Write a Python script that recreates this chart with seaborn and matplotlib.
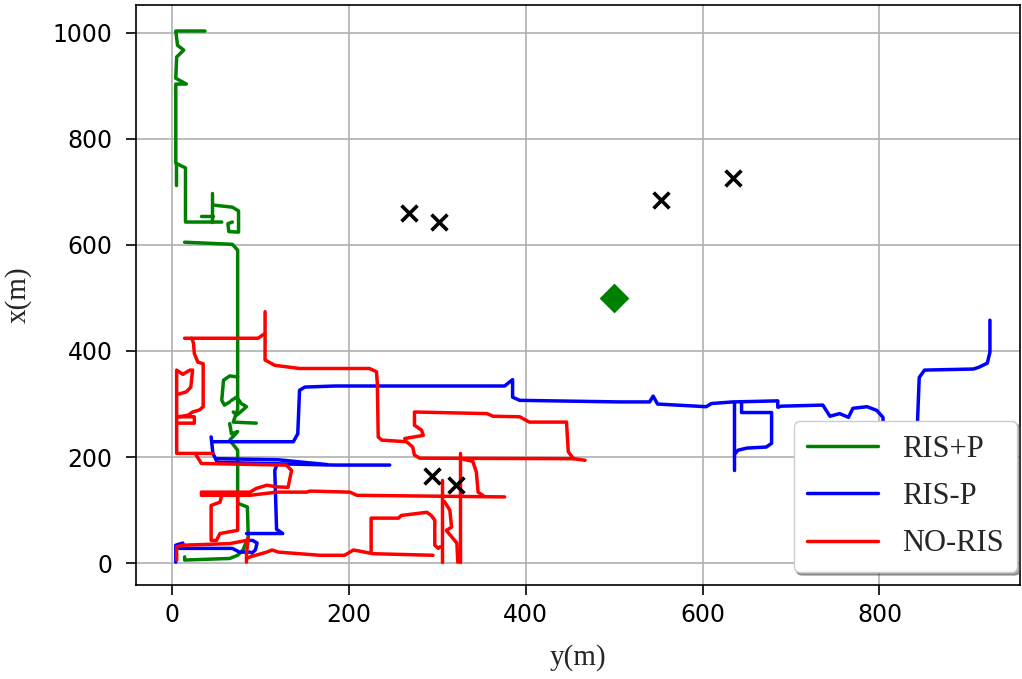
import numpy as np
import pandas as pd
import matplotlib
matplotlib.use("Agg")
import matplotlib.pyplot as plt
from matplotlib.lines import Line2D
import seaborn as sns

# ---------------- data (horizontal = y(m), vertical = x(m)) ----------------
methods = ["RIS+P", "RIS-P", "NO-RIS"]
colors = {"RIS+P": "green", "RIS-P": "blue", "NO-RIS": "red"}

ris_plus_p_segments = [
    [(37, 1003), (4, 1003), (6, 976), (13, 967), (5, 954), (4, 914), (16, 903), (4, 903),
     (4, 754), (15, 745), (15, 643), (56, 643)],
    [(4, 754), (4, 713)],
    [(45, 697), (45, 643)],
    [(33, 654), (46, 654)],
    [(46, 675), (68, 671), (75, 664), (75, 624), (64, 625), (63, 640), (68, 643)],
    [(14, 605), (68, 601), (74, 590), (74, 351), (65, 353), (58, 345), (56, 307), (59, 298), (65, 304)],
    [(67, 307), (73, 313), (78, 301), (84, 295), (73, 279), (69, 285)],
    [(74, 351), (74, 290), (69, 266), (95, 264)],
    [(65, 263), (67, 244), (74, 248), (65, 232), (74, 213), (74, 113), (85, 106), (86, 49),
     (80, 25), (74, 15), (65, 9), (14, 6), (14, 12)],
]

ris_minus_p_segments = [
    [(4, 2), (4, 34), (12, 38)],
    [(8, 28), (68, 28), (76, 21), (88, 21)],
    [(88, 43), (91, 43), (96, 38), (94, 25), (90, 19)],
    [(84, 56), (125, 56), (118, 64), (116, 175), (118, 184)],
    [(44, 238), (46, 207), (51, 190), (184, 185), (246, 185)],
    [(51, 197), (120, 195), (150, 190), (175, 186)],
    [(46, 229), (137, 229), (142, 244), (144, 326), (150, 332), (184, 334), (376, 334),
     (385, 346), (385, 313), (393, 307), (506, 304), (540, 304), (544, 315), (549, 300),
     (604, 295), (610, 301), (634, 304), (685, 306), (685, 294), (689, 296), (736, 298),
     (744, 277), (755, 282), (765, 275), (770, 292), (786, 295), (797, 288), (804, 275),
     (806, 150), (840, 150), (843, 264), (845, 350), (851, 364), (906, 366), (912, 369),
     (922, 377), (925, 398), (925, 458)],
    [(636, 175), (636, 304)],
    [(644, 304), (644, 284), (678, 284), (678, 226), (672, 219), (650, 217), (640, 213), (636, 205)],
]

no_ris_segments = [
    [(105, 474), (105, 433), (97, 424), (14, 424)],
    [(105, 433), (105, 383), (116, 373), (144, 367), (223, 367), (231, 361), (232, 339),
     (233, 238), (237, 232), (265, 229), (272, 219), (274, 204), (280, 198), (454, 197), (467, 194)],
    [(263, 235), (284, 241), (282, 251), (274, 260), (274, 285), (356, 282), (363, 277),
     (393, 276), (404, 266), (446, 266), (448, 210), (454, 197)],
    [(22, 424), (24, 415), (25, 395), (29, 379), (35, 376), (35, 295), (31, 289), (23, 285),
     (18, 279), (7, 276), (25, 276), (25, 264), (5, 264)],
    [(8, 319), (16, 323), (21, 332), (23, 364), (20, 364), (12, 356), (5, 364), (5, 207), (46, 207)],
    [(27, 204), (33, 188), (129, 185), (135, 175), (131, 143), (118, 144), (107, 147),
     (95, 141), (88, 134), (74, 134), (33, 134), (33, 128), (88, 128), (118, 134), (152, 134),
     (156, 136), (201, 134), (209, 128), (376, 125)],
    [(329, 196), (340, 192), (344, 172), (346, 134), (352, 127)],
    [(325, 207), (325, 2)],
    [(305, 156), (305, 2)],
    [(308, 116), (314, 100), (316, 68), (310, 62), (322, 38), (323, 2)],
    [(74, 132), (74, 62), (54, 56), (50, 43), (44, 43), (44, 109), (54, 115), (56, 128)],
    [(5, 6), (5, 31), (12, 34), (65, 37), (84, 43), (86, 47), (84, 18), (84, 2)],
    [(84, 9), (88, 12), (107, 21), (113, 25), (120, 21), (167, 15), (195, 15), (205, 25),
     (227, 18), (295, 15)],
    [(225, 21), (225, 85), (256, 85), (259, 90), (288, 96), (293, 90), (297, 81), (297, 34),
     (301, 28), (303, 31)],
]

user_y = [268, 302, 553, 634, 294, 321]
user_x = [660, 643, 684, 726, 164, 147]
bs_y = [500]
bs_x = [500]

xticks_vals = [0, 200, 400, 600, 800]
yticks_vals = [0, 200, 400, 600, 800, 1000]

# ---------------- build table ----------------
rows = []
for name, segs in zip(methods, [ris_plus_p_segments, ris_minus_p_segments, no_ris_segments]):
    for i, seg in enumerate(segs):
        for k, (h, v) in enumerate(seg):
            rows.append({"method": name, "seg": f"{name}-{i}", "order": k, "ym": h, "xm": v})
df = pd.DataFrame(rows)

# ---------------- plot ----------------
sns.set_theme(style="ticks")
plt.rcParams["font.family"] = ["DejaVu Sans"]

fig = plt.figure(figsize=(10.22, 6.79), dpi=100)
ax = fig.add_axes([136 / 1022, 1 - 585 / 679, (1020 - 136) / 1022, (585 - 5) / 679])

sns.lineplot(data=df, x="ym", y="xm", hue="method", hue_order=methods, units="seg",
             estimator=None, sort=False, palette=colors, linewidth=2.5, ax=ax, legend=False,
             solid_joinstyle="round", solid_capstyle="round")

sns.scatterplot(x=user_y, y=user_x, marker="x", s=130, color="black", linewidth=2.6,
                ax=ax, zorder=5)
sns.scatterplot(x=bs_y, y=bs_x, marker="D", s=230, color="green", linewidth=0,
                ax=ax, zorder=5)

ax.set_xlim(-41, 959)
ax.set_ylim(-41, 1052)
ax.set_xticks(xticks_vals)
ax.set_yticks(yticks_vals)
ax.grid(True, color="#b0b0b0", linewidth=1.2)
ax.set_axisbelow(True)
for s in ax.spines.values():
    s.set_color("black")
    s.set_linewidth(1.2)
ax.tick_params(axis="both", labelsize=17, length=7, width=1.2, direction="out",
               color="black", labelcolor="black")
ax.tick_params(axis="x", pad=6)
ax.tick_params(axis="y", pad=10)

serif = {"family": ["Liberation Serif", "DejaVu Serif"], "size": 21}
ax.set_xlabel("y(m)", fontdict=serif, labelpad=12)
ax.set_ylabel("x(m)", fontdict=serif, labelpad=15)

handles = [Line2D([], [], color=colors[m], linewidth=2.5) for m in methods]
leg = ax.legend(handles, methods, loc="lower right", bbox_to_anchor=(0.997, 0.022),
                borderaxespad=0, prop={"family": ["Liberation Serif", "DejaVu Serif"], "size": 22},
                shadow=True, fancybox=True, framealpha=1, edgecolor="#cccccc",
                handlelength=2.3, handletextpad=0.8, labelspacing=0.6, borderpad=0.45)
leg.set_zorder(10)

fig.savefig("out.png", dpi=100)
